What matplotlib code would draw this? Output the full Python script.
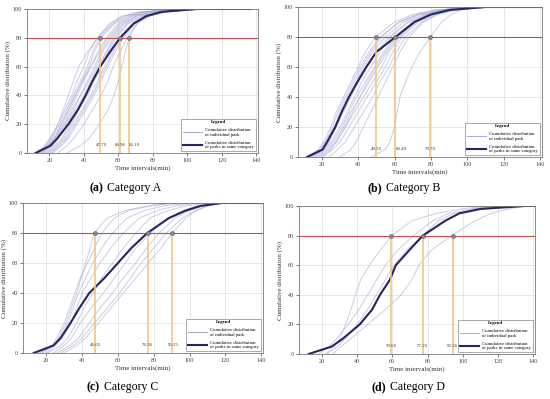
import matplotlib
matplotlib.use('Agg')
import matplotlib.pyplot as plt
from matplotlib.lines import Line2D

plt.rcParams['font.family'] = ['Liberation Serif', 'DejaVu Serif']

levels = [0, 5, 10, 20, 30, 40, 50, 60, 70, 80, 90, 95, 98, 100, 100]

# Category A
cat_a = [12, 20.5, 24.5, 31, 36.5, 41, 45, 49.5, 55, 61, 69, 76, 85, 105, 137]
parks_a = [
    [12, 17, 20, 25, 29, 33, 36, 40, 43, 47.8, 55, 62, 72, 95, 115],
    [13, 18, 21, 26, 30, 34, 38, 42, 45, 49, 57, 64, 74, 98, 118],
    [14, 19, 22, 27, 31, 35, 39, 43, 46, 50, 58, 66, 76, 100, 120],
    [15, 20, 23, 28, 32, 36, 40, 44, 48, 53, 60, 67, 78, 102, 122],
    [13, 19, 23, 29, 34, 38, 42, 46, 50, 55, 62, 70, 80, 104, 125],
    [16, 21, 24, 29, 33, 38, 43, 47, 51, 56, 63, 70, 80, 100, 118],
    [17, 22, 25, 30, 35, 40, 44, 48, 53, 58, 65, 73, 83, 105, 125],
    [18, 23, 27, 32, 37, 42, 46, 50, 54, 59, 66, 74, 84, 108, 128],
    [20, 25, 29, 34, 39, 44, 48, 52, 56, 61, 68, 76, 86, 110, 130],
    [22, 27, 31, 36, 41, 46, 50, 54, 58, 63, 70, 78, 88, 110, 128],
    [25, 30, 34, 40, 45, 50, 54, 57, 61, 65, 71, 78, 88, 110, 128],
    [30, 38, 43, 49, 54, 57.5, 60, 62, 64, 66.2, 71, 77, 86, 105, 122],
    [14, 18, 21, 25, 28, 31, 34, 37, 42, 48, 56, 63, 73, 96, 115],
    [19, 24, 28, 33, 37, 41, 45, 49, 53, 57, 64, 71, 82, 104, 122],
    [16, 20, 23, 27, 31, 35, 39, 44, 49, 54, 61, 68, 78, 100, 120],
    [21, 26, 30, 35, 40, 45, 49, 53, 57, 62, 69, 77, 86, 108, 126],
]
cross_a = [49.6, 61.0, 66.4]
text_a = ['47.79', '60.96', '66.19']
textx_a = [50.1, 60.9, 69.2]

# Category B
cat_b = [12, 20.5, 23, 27.5, 31, 35, 39.6, 44.5, 50, 60.5, 71, 80, 90, 110, 141]
parks_b = [
    [12, 18, 21, 25, 28, 32, 36, 40, 44, 49.5, 60, 70, 82, 105, 115],
    [13, 19, 22, 26, 29, 33, 37, 41, 46, 52, 63, 73, 84, 106, 118],
    [14, 20, 23, 27, 31, 35, 39, 43, 48, 55, 65, 74, 85, 105, 116],
    [15, 21, 24, 28, 32, 36, 40, 45, 50, 57, 67, 76, 86, 108, 120],
    [16, 21, 25, 30, 34, 38, 42, 47, 52, 58, 68, 77, 88, 108, 118],
    [17, 22, 26, 31, 35, 39, 44, 49, 54, 60, 70, 78, 88, 110, 120],
    [18, 23, 27, 32, 36, 41, 46, 51, 56, 62, 71, 80, 90, 110, 122],
    [19, 24, 28, 33, 38, 43, 48, 53, 57, 63, 72, 80, 90, 108, 120],
    [21, 26, 30, 35, 40, 45, 50, 55, 59, 64, 73, 82, 92, 112, 125],
    [24, 29, 33, 38, 43, 48, 52, 57, 61, 66, 75, 83, 93, 112, 125],
    [30, 36, 39, 43, 47, 51, 55, 59, 63, 68, 76, 84, 94, 112, 125],
    [47, 55, 57.5, 60, 61.5, 63, 66, 69.5, 74, 79.7, 86, 91, 96, 106, 118],
    [14, 19, 22, 27, 30, 34, 38, 42, 47, 53, 62, 72, 83, 104, 115],
    [20, 25, 28, 33, 37, 41, 45, 50, 55, 61, 70, 78, 88, 106, 118],
]
cross_b = [50.0, 60.4, 79.5]
text_b = ['49.55', '60.49', '79.70']
textx_b = [49.9, 63.8, 79.4]

# Category C
cat_c = [13, 24, 28, 33.5, 38.5, 44, 52.5, 60, 67.5, 76.4, 88.5, 98, 106, 118, 141]
parks_c = [
    [16, 24, 27, 31, 34, 37, 39.5, 42, 44.5, 46.65, 54, 64, 76, 90, 100],
    [17, 23, 26, 30, 33, 36, 39, 43, 47, 51, 58, 66, 78, 92, 102],
    [18, 24, 28, 32, 35, 38, 42, 46, 51, 57, 65, 75, 85, 100, 110],
    [20, 25, 29, 34, 37, 40, 45, 50, 56, 63, 72, 82, 92, 105, 115],
    [21, 28, 32, 37, 41, 46, 51, 57, 63, 70, 78, 88, 98, 110, 120],
    [24, 30, 34, 39, 45, 52, 58, 64, 70, 78, 88, 96, 104, 114, 122],
    [26, 33, 38, 44, 50, 57, 63, 70, 76, 83, 92, 100, 107, 116, 124],
    [28, 35, 40, 47, 54, 61, 67, 73, 80, 87, 96, 103, 110, 118, 126],
    [30, 37, 42, 49, 56, 63, 70, 77, 84, 90.25, 98, 104, 110, 118, 126],
]
cross_c = [47.2, 76.8, 90.4]
text_c = ['46.65', '76.36', '90.25']
textx_c = [47.5, 76.5, 91.2]

# Category D
cat_d = [12.5, 25.5, 31.5, 41.5, 48.5, 53, 58.5, 62, 69.5, 77.3, 90, 98, 110, 135, 141]
parks_d = [
    [22, 27, 30, 33.5, 36.5, 39, 42, 47, 53, 59.66, 71, 85, 99, 115, 125],
    [26, 31, 36, 46, 56, 65, 71, 75, 82, 93.56, 107, 116, 126, 136, 141],
    [18, 24, 28, 35, 41, 46, 51, 56, 63, 72, 83, 92, 105, 120, 135],
    [23, 29, 33, 40, 46, 51, 56, 61, 68, 77.25, 86, 95, 106, 120, 135],
]
cross_d = [59.4, 77.4, 94.2]
text_d = ['59.66', '77.25', '93.56']
textx_d = [59.5, 77.2, 94.2]

panels = [
    ('a', 'Category A', cat_a, parks_a, cross_a, text_a, textx_a, [27, 9, 258, 153], 133, 188),
    ('b', 'Category B', cat_b, parks_b, cross_b, text_b, textx_b, [298, 7, 542, 157], 412, 188),
    ('c', 'Category C', cat_c, parks_c, cross_c, text_c, textx_c, [23, 203, 263, 353], 130, 387),
    ('d', 'Category D', cat_d, parks_d, cross_d, text_d, textx_d, [299, 206, 535, 354], 416, 387),
]

W, H = 550, 399
fig = plt.figure(figsize=(5.5, 3.99), dpi=100)

park_col = '#a8abd6'
cat_col = '#28245f'

for tag, name, cat, parks, cross, texts, textx, box, cx, cy in panels:
    l, t, r, b = box
    ax = fig.add_axes([l / W, 1 - b / H, (r - l) / W, (b - t) / H])
    for p in parks:
        ax.plot(p, levels, color=park_col, lw=0.7, alpha=0.6)
    ax.plot(cat, levels, color=cat_col, lw=1.5)
    ax.axhline(80, color='#c0504d', lw=0.8)
    for m in cross:
        ax.plot([m, m], [0, 80], color='#f3c584', lw=1.2, zorder=3)
        ax.plot(m, 80, 'o', ms=2.8, color='#8a8a8a', mec='#555555', mew=0.4, zorder=4)
    for s, xs in zip(texts, textx):
        ax.text(xs, 4, s, fontsize=3.5, ha='center', va='bottom', color='#333333', zorder=5)
    ax.set_xlim(7, 141)
    ax.set_ylim(0, 100)
    ax.set_xticks(range(20, 141, 20))
    ax.set_yticks(range(0, 101, 20))
    ax.grid(color='#dddddd', lw=0.5)
    ax.set_axisbelow(True)
    ax.tick_params(labelsize=4.5, length=2, width=0.5, pad=1.5, colors='#444444')
    for s in ax.spines.values():
        s.set_color('#777777')
        s.set_linewidth(0.6)
    ax.set_xlabel('Time intervals(min)', fontsize=5, labelpad=2, color='#333333')
    ax.set_ylabel('Cumulative distribution (%)', fontsize=5, labelpad=1, color='#333333')
    handles = [Line2D([0], [0], color=park_col, lw=0.7),
               Line2D([0], [0], color=cat_col, lw=1.5)]
    leg = ax.legend(handles, ['Cumulative distribution\nof individual park',
                              'Cumulative distribution\nof parks in same category'],
                    loc='lower right', fontsize=3.4, title='Legend',
                    title_fontproperties={'size': 3.4, 'weight': 'bold'},
                    fancybox=False, edgecolor='#888888', framealpha=1,
                    handlelength=4, borderaxespad=0.4, labelspacing=0.8)
    leg.get_frame().set_linewidth(0.5)
    fig.text((cx - 30) / W, 1 - cy / H, '(%s)' % tag, fontsize=8.5,
             weight='bold', ha='right', va='center')
    fig.text((cx - 29) / W, 1 - cy / H, ' ' + name, fontsize=8.5,
             ha='left', va='center')

fig.savefig('out.png', dpi=100)
